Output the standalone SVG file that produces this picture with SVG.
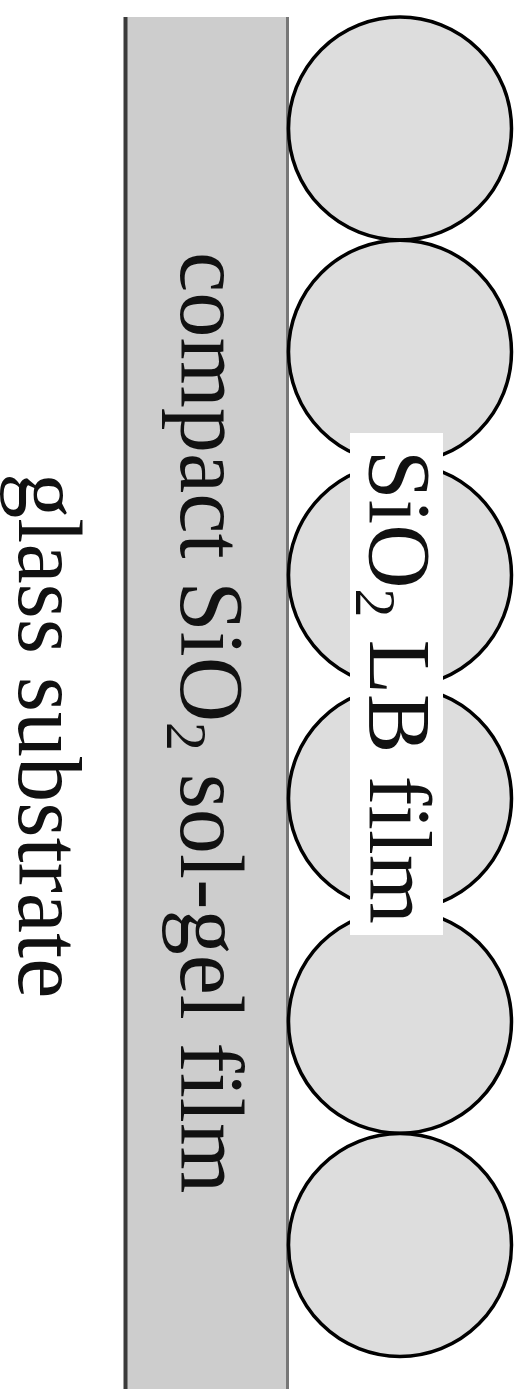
<svg xmlns="http://www.w3.org/2000/svg" width="526" height="1389" viewBox="0 0 526 1389">
  <style>
    .lbl { font-family: "Liberation Serif", "Times New Roman", serif; font-size: 89px; fill: #111; }
    .big { font-size: 90.5px; }
    .sub { font-size: 58px; }
    .particle { fill: #dddddd; stroke: #000; stroke-width: 3.5; }
  </style>
  <rect x="0" y="0" width="526" height="1389" fill="#ffffff"/>

  <!-- compact sol-gel layer -->
  <g id="solgel-layer">
    <rect x="125" y="17" width="163" height="1372" fill="#cdcdcd"/>
    <line x1="125.5" y1="17" x2="125.5" y2="1389" stroke="#3a3a3a" stroke-width="4"/>
    <line x1="287.5" y1="17" x2="287.5" y2="1389" stroke="#777" stroke-width="3"/>
    <text class="lbl big" transform="translate(181,252) rotate(90)">compact SiO<tspan class="sub" dy="14">2</tspan><tspan dy="-14"> sol-gel film</tspan></text>
  </g>

  <!-- substrate label -->
  <g id="substrate">
    <text class="lbl big" transform="translate(19,473) rotate(90)">glass substrate</text>
  </g>

  <!-- LB film particles -->
  <g id="lb-film">
    <circle class="particle" cx="400" cy="128.5" r="111.5"/>
    <circle class="particle" cx="400" cy="351.8" r="111.5"/>
    <circle class="particle" cx="400" cy="575.1" r="111.5"/>
    <circle class="particle" cx="400" cy="798.4" r="111.5"/>
    <circle class="particle" cx="400" cy="1021.7" r="111.5"/>
    <circle class="particle" cx="400" cy="1245" r="111.5"/>
    <rect x="350" y="433" width="93" height="502" fill="#ffffff"/>
    <text class="lbl" transform="translate(370,450) rotate(90)">SiO<tspan class="sub" dy="14">2</tspan><tspan dy="-14"> LB film</tspan></text>
  </g>
</svg>
